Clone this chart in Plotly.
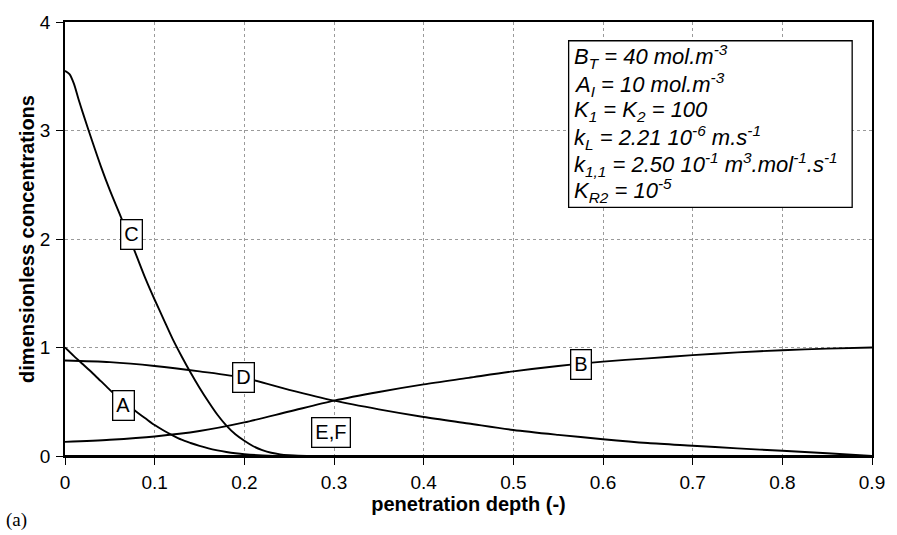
import plotly.graph_objects as go

# penetration depth grids
x_c = [0, 0.005, 0.01, 0.015, 0.02, 0.03, 0.04, 0.05, 0.06, 0.07, 0.08, 0.09, 0.10, 0.11, 0.12, 0.13, 0.14,
       0.15, 0.16, 0.17, 0.18, 0.19, 0.20, 0.21, 0.22, 0.23, 0.24, 0.25, 0.26, 0.30, 0.90]
c_vals = [3.55, 3.52, 3.43, 3.29, 3.16, 2.91, 2.67, 2.45, 2.25, 2.05, 1.84, 1.63, 1.44, 1.26, 1.08, 0.92, 0.77,
          0.63, 0.50, 0.38, 0.28, 0.20, 0.14, 0.09, 0.055, 0.03, 0.015, 0.007, 0.002, 0.0, 0.0]

x_a = [0, 0.01, 0.02, 0.03, 0.04, 0.05, 0.06, 0.07, 0.08, 0.09, 0.10, 0.11, 0.12, 0.13, 0.14, 0.15,
       0.16, 0.17, 0.18, 0.19, 0.20, 0.22, 0.25, 0.90]
a_vals = [1.0, 0.92, 0.845, 0.77, 0.69, 0.61, 0.535, 0.47, 0.405, 0.345, 0.285, 0.235, 0.19, 0.15, 0.12, 0.093,
          0.07, 0.052, 0.037, 0.025, 0.016, 0.006, 0.0, 0.0]

x_bd = [0, 0.05, 0.10, 0.15, 0.20, 0.25, 0.30, 0.35, 0.40, 0.45, 0.50, 0.55, 0.60, 0.65, 0.70, 0.75, 0.80, 0.85, 0.90]
b_vals = [0.13, 0.15, 0.18, 0.23, 0.31, 0.41, 0.51, 0.59, 0.66, 0.72, 0.78, 0.83, 0.87, 0.90, 0.93, 0.955, 0.975, 0.99, 1.0]
d_vals = [0.88, 0.865, 0.83, 0.78, 0.72, 0.61, 0.51, 0.43, 0.36, 0.30, 0.24, 0.195, 0.155, 0.12, 0.095, 0.07, 0.048, 0.025, 0.0]

x_ef = [0, 0.9]
ef_vals = [0.0, 0.0]

# curve labels: (text, x, y)
curve_labels = [("C", 0.0745, 2.04), ("A", 0.065, 0.47), ("D", 0.199, 0.727),
                ("B", 0.575, 0.84), ("E,F", 0.297, 0.22)]

param_lines = [
    "B<sub>T</sub> = 40 mol.m<sup>-3</sup>",
    "A<sub>I</sub> = 10 mol.m<sup>-3</sup>",
    "K<sub>1</sub> = K<sub>2</sub> = 100",
    "k<sub>L</sub> = 2.21 10<sup>-6</sup> m.s<sup>-1</sup>",
    "k<sub>1,1</sub> = 2.50 10<sup>-1</sup> m<sup>3</sup>.mol<sup>-1</sup>.s<sup>-1</sup>",
    "K<sub>R2</sub> = 10<sup>-5</sup>",
]

x_ticks = [0, 0.1, 0.2, 0.3, 0.4, 0.5, 0.6, 0.7, 0.8, 0.9]
x_ticklabels = ["0", "0.1", "0.2", "0.3", "0.4", "0.5", "0.6", "0.7", "0.8", "0.9"]
y_ticks = [0, 1, 2, 3, 4]

W, H = 897, 535
ML, MR, MT, MB = 65, 18, 16, 79

fig = go.Figure()
line_style = dict(color="black", width=1.9, shape="spline", smoothing=0.8)
for xs, ys, nm in [(x_c, c_vals, "C"), (x_a, a_vals, "A"), (x_bd, b_vals, "B"), (x_bd, d_vals, "D"),
                   (x_ef, ef_vals, "E,F")]:
    fig.add_trace(go.Scatter(x=xs, y=ys, mode="lines", line=line_style, name=nm,
                             showlegend=False, hoverinfo="skip"))

for txt, lx, ly in curve_labels:
    fig.add_annotation(x=lx, y=ly, text=txt, showarrow=False, xref="x", yref="y",
                       font=dict(family="Liberation Sans, Arial", size=20, color="black"),
                       bgcolor="white", bordercolor="black", borderwidth=1.3, borderpad=3)

# parameter box
box_l, box_r, box_t, box_b = 573, 859, 35, 204
pw, ph = W - ML - MR, H - MT - MB
def px2paper_x(px):
    return (px - ML) / pw
def px2paper_y(py):
    return 1 - (py - MT) / ph

fig.add_shape(type="rect", xref="paper", yref="paper",
              x0=px2paper_x(box_l), x1=px2paper_x(box_r),
              y0=px2paper_y(box_b), y1=px2paper_y(box_t),
              line=dict(color="black", width=1.3), fillcolor="white", layer="above")
line_ys = [51, 79, 106, 133, 160, 187]
for txt, py in zip(param_lines, line_ys):
    fig.add_annotation(x=px2paper_x(box_l + 3), y=px2paper_y(py), xref="paper", yref="paper",
                       xanchor="left", yanchor="middle", showarrow=False,
                       text="<i>" + txt + "</i>",
                       font=dict(family="Liberation Sans, Arial", size=22, color="black"))

fig.add_annotation(x=px2paper_x(16), y=px2paper_y(521), xref="paper", yref="paper", xanchor="center",
                   yanchor="middle", showarrow=False, text="(a)",
                   font=dict(family="Liberation Serif, Times New Roman", size=19, color="black"))

axis_common = dict(showline=True, linecolor="black", linewidth=1.5, mirror=True,
                   ticks="outside", ticklen=7, tickcolor="black", tickwidth=1.3,
                   showgrid=True, gridcolor="#9a9a9a", griddash="dot", gridwidth=1,
                   zeroline=False,
                   tickfont=dict(family="Liberation Sans, Arial", size=19, color="black"))

fig.update_layout(
    width=W, height=H,
    margin=dict(l=ML, r=MR, t=MT, b=MB),
    paper_bgcolor="white", plot_bgcolor="white",
    xaxis=dict(range=[0, 0.9], tickvals=x_ticks, ticktext=x_ticklabels, ticklabelstandoff=1,
               title=dict(text="<b>penetration depth (-)</b>", standoff=5,
                          font=dict(family="Liberation Sans, Arial", size=20, color="black")),
               **axis_common),
    yaxis=dict(range=[0, 4], tickvals=y_ticks, ticklabelstandoff=2,
               title=dict(text="<b>dimensionless concentrations</b>", standoff=0,
                          font=dict(family="Liberation Sans, Arial", size=20, color="black")),
               **axis_common),
)

fig.write_html("out.html")
